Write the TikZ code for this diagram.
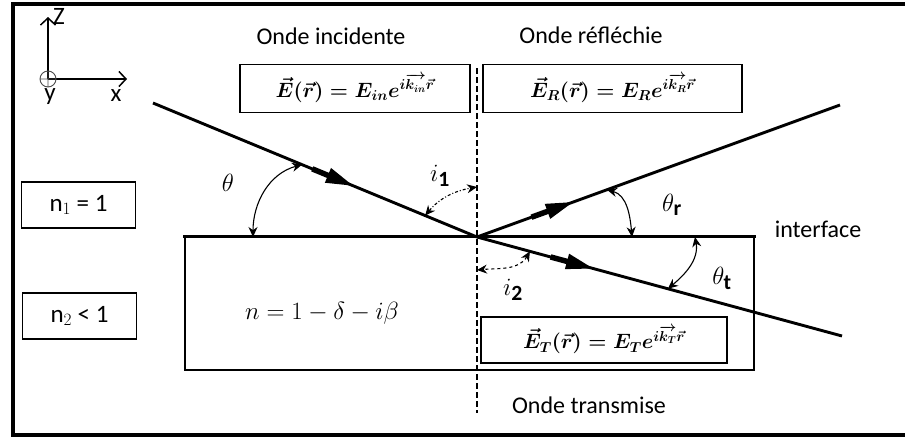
\documentclass[tikz,border=0pt]{standalone}
\usepackage{amsmath}
\usepackage{fontspec}
\setmainfont{Carlito}
\usetikzlibrary{positioning,arrows.meta,calc,decorations.markings}
\tikzset{
  frame/.style={line width=3.5pt},
  lbl/.style={font=\fontsize{24}{28}\selectfont, inner sep=0pt},
  axlbl/.style={font=\fontsize{25}{29}\selectfont, inner sep=0pt},
  eqbox/.style={draw, line width=1.6pt, minimum width=#1, minimum height=48pt, inner sep=0pt, font=\fontsize{20}{24}\selectfont\boldmath},
  nbox/.style={draw, line width=1.6pt, minimum width=114pt, minimum height=46pt, inner sep=0pt, font=\fontsize{25}{29}\selectfont},
  medium/.style={draw, line width=1.6pt, minimum width=569pt, minimum height=133pt, inner sep=0pt},
  iface/.style={line width=2.8pt, line cap=rect},
  ray/.style={line width=2.9pt, postaction=decorate, decoration={markings, mark=at position #1 with {
      \draw[line width=5.5pt] (-44pt,0) -- (-22pt,0);
      \fill (-27pt,8pt) -- (0pt,0pt) -- (-27pt,-8pt) -- cycle;}}},
  ang/.style={line width=1.1pt, {Stealth[length=10pt,width=9pt]}-{Stealth[length=10pt,width=9pt]}},
  normline/.style={line width=1.3pt, dash pattern=on 6pt off 3pt},
  axis/.style={line width=1.5pt, -{Straight Barb[length=7pt,width=15pt]}},
  sym/.style={font=\fontsize{31}{35}\selectfont, inner sep=0pt},
  nform/.style={font=\fontsize{24}{28}\selectfont, inner sep=0pt}
}
\begin{document}
\begin{tikzpicture}[x=1pt,y=-1pt]
  \useasboundingbox (0,0) rectangle (905,439);
  \draw[frame] (13,4) rectangle (925,435);

  \coordinate (orig) at (48,79);
  \coordinate (zend) at (48,17);
  \coordinate (xend) at (127,79);
  \draw[axis] (orig) -- (zend);
  \draw[axis] (orig) -- (xend);
  \draw[line width=0.9pt, black!70] (orig) circle (8) (40,79) -- (56,79) (48,71) -- (48,87);
  \node[axlbl] (zl) at (59,16) {Z};
  \node[axlbl] (yl) at (50,97) {y};
  \node[axlbl] (xl) at (116,96) {x};

  \node[lbl] (tinc) at (331,36) {Onde incidente};
  \node[lbl] (tref) at (591,35) {Onde réfléchie};
  \node[lbl] (ttra) at (589,405) {Onde transmise};
  \node[lbl] (tint) at (818,229) {interface};

  \node[eqbox=230pt] (einc) at (355,88.5) {$\vec{E}(\vec{r}) = E_{in}e^{i\overrightarrow{k_{in}}\vec{r}}$};
  \node[eqbox=259pt] (eref) at (612.5,88.5) {$\vec{E}_R(\vec{r}) = E_{R}e^{i\overrightarrow{k_{R}}\vec{r}}$};
  \node[eqbox=246pt, minimum height=46pt] (etra) at (604,340) {$\vec{E}_T(\vec{r}) = E_{T}e^{i\overrightarrow{k_{T}}\vec{r}}$};

  \node[nbox] (n1) at (78.5,205) {n$_1$ = 1};
  \node[nbox] (n2) at (79.5,316) {n$_2$ < 1};

  \node[medium] (med) at (469.5,303.5) {};
  \draw[iface] (med.north west) -- (med.north east);
  \node[nform] (nval) at (322,313) {$n = 1 - \delta - i\beta$};

  \coordinate (ntop) at (477,68);
  \coordinate (nbot) at (477,413);
  \draw[normline] (ntop) -- (nbot);

  \coordinate (O) at (477,237);
  \coordinate (src) at (153,103);
  \coordinate (rend) at (840,105);
  \coordinate (tend) at (842,336);
  \draw[ray=0.617] (src) -- (O);
  \draw[ray=0.264] (O) -- (rend);
  \draw[ray=0.318] (O) -- (tend);

  \coordinate (th1) at ($(O)!0.54!(src)$);
  \coordinate (th2) at (253,237);
  \coordinate (ia1) at ($(O)!0.16!(src)$);
  \coordinate (ia2) at (477,187);
  \coordinate (tr1) at ($(O)!0.358!(rend)$);
  \coordinate (tr2) at (632,237);
  \coordinate (tt1) at (695,237);
  \coordinate (tt2) at ($(O)!0.523!(tend)$);
  \coordinate (ib1) at ($(O)!0.145!(tend)$);
  \coordinate (ib2) at (477,270);
  \draw[ang] (th1) to[out=195, in=90] (th2);
  \draw[ang, dash pattern=on 3pt off 2pt on 1pt off 2pt] (ia1) to[out=50, in=190] (ia2);
  \draw[ang] (tr1) to[out=-15, in=95] (tr2);
  \draw[ang] (tt1) to[out=-80, in=40] (tt2);
  \draw[ang, dashed] (ib1) to[out=-120, in=5] (ib2);

  \node[sym] (lth) at (228,183) {$\theta$};
  \node[sym] (li1) at (440,176) {$i_{\mathbf{1}}$};
  \node[sym] (lthr) at (672,205) {$\theta_{\mathbf{r}}$};
  \node[sym] (ltht) at (722,278) {$\theta_{\mathbf{t}}$};
  \node[sym] (li2) at (513,290) {$i_{\mathbf{2}}$};
\end{tikzpicture}
\end{document}
